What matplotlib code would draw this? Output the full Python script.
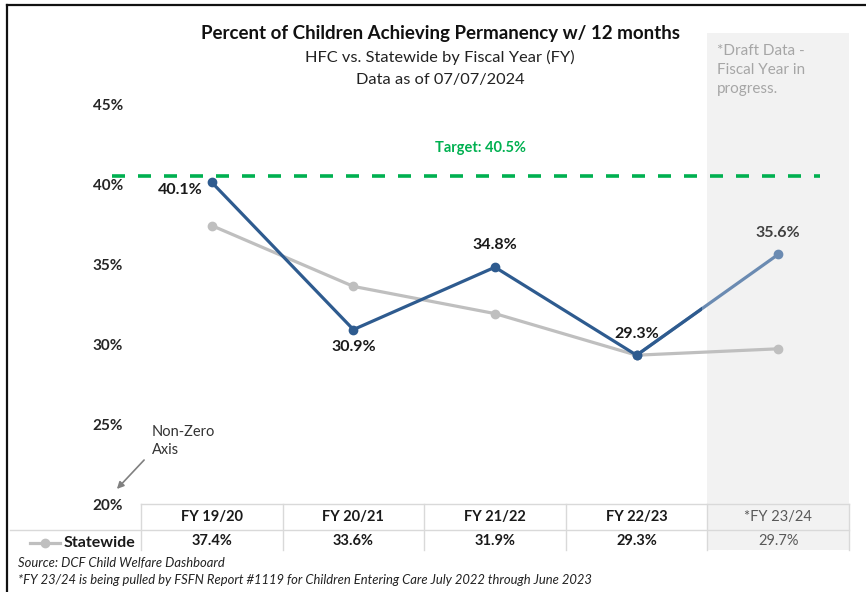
import matplotlib.pyplot as plt
from matplotlib.patches import Rectangle
from matplotlib.transforms import blended_transform_factory
from matplotlib.lines import Line2D

plt.rcParams['font.family'] = ['Lato', 'DejaVu Sans']

# data
fiscal_years = ["FY 19/20", "FY 20/21", "FY 21/22", "FY 22/23", "*FY 23/24"]
hfc = [40.1, 30.9, 34.8, 29.3, 35.6]
statewide = [37.4, 33.6, 31.9, 29.3, 29.7]
target = 40.5
yticks = [20, 25, 30, 35, 40, 45]

W, H = 866, 592
fig = plt.figure(figsize=(W / 100, H / 100), dpi=100)

# plot area in pixels: x 141..849, y 33..504
ax = fig.add_axes([141 / W, 1 - 504 / H, (849 - 141) / W, (504 - 33) / H])
ax.set_xlim(-0.5, 4.5)
ax.set_ylim(20, 20 + (504 - 33) / 16)
for s in ax.spines.values():
    s.set_visible(False)
ax.set_xticks([])
ax.set_yticks(yticks)
ax.set_yticklabels([f"{v}%" for v in yticks], fontsize=11, fontweight='bold', color='#262626')
ax.tick_params(axis='y', length=0, pad=13)

bl = blended_transform_factory(ax.transData, ax.transAxes)

def ya(p):
    # pixel row -> axes fraction
    return (504 - p) / 471

# shaded draft column
ax.add_patch(Rectangle((3.5, ya(550)), 1, 1 - ya(550), transform=bl,
                       facecolor='#f2f2f2', edgecolor='none', zorder=0, clip_on=False))

# target line
ax.plot([-0.705, 4.295], [target, target], color='#00b050', lw=2.6,
        dashes=(3.6, 3.6), clip_on=False, zorder=2)
ax.text(1.9, target + 1.75, f"Target: {target}%", color='#00b050', fontsize=10.5,
        fontweight='bold', ha='center', va='center')

# statewide
x = list(range(len(fiscal_years)))
ax.plot(x, statewide, color='#bfbfbf', lw=2.3, marker='o', ms=6, zorder=3, clip_on=False)

# HFC: light draft segment + dark clipped line
ax.plot(x[3:], hfc[3:], color='#6b8bb2', lw=2.3, marker='o', ms=6, zorder=4, clip_on=False)
dark, = ax.plot(x, hfc, color='#2e5b8f', lw=2.3, zorder=5)
clip = Rectangle((-0.6, 0), 4.06, 1, transform=bl)
dark.set_clip_path(clip)
ax.plot(x[:4], hfc[:4], color='#2e5b8f', lw=0, marker='o', ms=6, zorder=6, clip_on=False)

# data labels
offsets = [(-0.22, -0.5), (0, -1.1), (0, 1.4), (0, 1.3), (0, 1.35)]
for i, v in enumerate(hfc):
    dx, dy = offsets[i]
    ax.text(i + dx, v + dy, f"{v}%", fontsize=11.5, fontweight='bold',
            color='#404040' if i == 4 else '#1a1a1a', ha='center', va='center')

# titles
fig.text(440 / W, 1 - 33 / H, "Percent of Children Achieving Permanency w/ 12 months",
         ha='center', va='center', fontsize=13.5, fontweight='bold', color='#111111')
fig.text(440 / W, 1 - 57 / H, "HFC vs. Statewide by Fiscal Year (FY)",
         ha='center', va='center', fontsize=11.8, color='#222222')
fig.text(440 / W, 1 - 80 / H, "Data as of 07/07/2024",
         ha='center', va='center', fontsize=11.8, color='#222222')
fig.text(717 / W, 1 - 44 / H, "*Draft Data -\nFiscal Year in\nprogress.",
         ha='left', va='top', fontsize=11, color='#a6a6a6', linespacing=1.45)

# non-zero axis note
fig.text(152 / W, 1 - 441 / H, "Non-Zero\nAxis", ha='left', va='center',
         fontsize=10.5, color='#333333', linespacing=1.3)
ax.annotate("", xy=(115 / W, 1 - 491 / H), xytext=(146 / W, 1 - 458 / H),
            xycoords='figure fraction', textcoords='figure fraction',
            arrowprops=dict(arrowstyle='-|>', color='#808080', lw=1.2, mutation_scale=10))

# table
grid = '#d9d9d9'
ax.plot([-0.5, 4.5], [ya(504), ya(504)], transform=bl, color=grid, lw=1, clip_on=False)
fig.add_artist(Line2D([10 / W, 849 / W], [1 - 530 / H, 1 - 530 / H], color=grid, lw=1))
for k in range(6):
    ax.plot([k - 0.5, k - 0.5], [ya(504), ya(550)], transform=bl, color=grid, lw=1, clip_on=False)
for i, fy in enumerate(fiscal_years):
    last = i == 4
    ax.text(i, ya(517), fy, transform=bl, ha='center', va='center', fontsize=10.5,
            fontweight='normal' if last else 'bold', color='#595959' if last else '#1a1a1a',
            clip_on=False)
    ax.text(i, ya(541), f"{statewide[i]}%", transform=bl, ha='center', va='center', fontsize=10.5,
            fontweight='normal' if last else 'bold', color='#595959' if last else '#1a1a1a',
            clip_on=False)
fig.add_artist(Line2D([30 / W, 45 / W, 60 / W], [1 - 543 / H] * 3, color='#bfbfbf', lw=2.3,
                      marker='o', markevery=[1], ms=6))
fig.text(64 / W, 1 - 543 / H, "Statewide", ha='left', va='center', fontsize=11.5,
         fontweight='bold', color='#1a1a1a')

# source
fig.text(18 / W, 1 - 563 / H, "Source: DCF Child Welfare Dashboard", ha='left', va='center',
         fontsize=9.4, style='italic', color='#222222')
fig.text(18 / W, 1 - 580 / H,
         "*FY 23/24 is being pulled by FSFN Report #1119 for Children Entering Care July 2022 through June 2023",
         ha='left', va='center', fontsize=9.4, style='italic', color='#222222')

# outer frame
fig.add_artist(Line2D([7 / W, 7 / W], [0, 1 - 5 / H], color='#111111', lw=1.6))
fig.add_artist(Line2D([7 / W, 1], [1 - 5 / H, 1 - 5 / H], color='#111111', lw=1.6))

fig.savefig("out.png", dpi=100)
